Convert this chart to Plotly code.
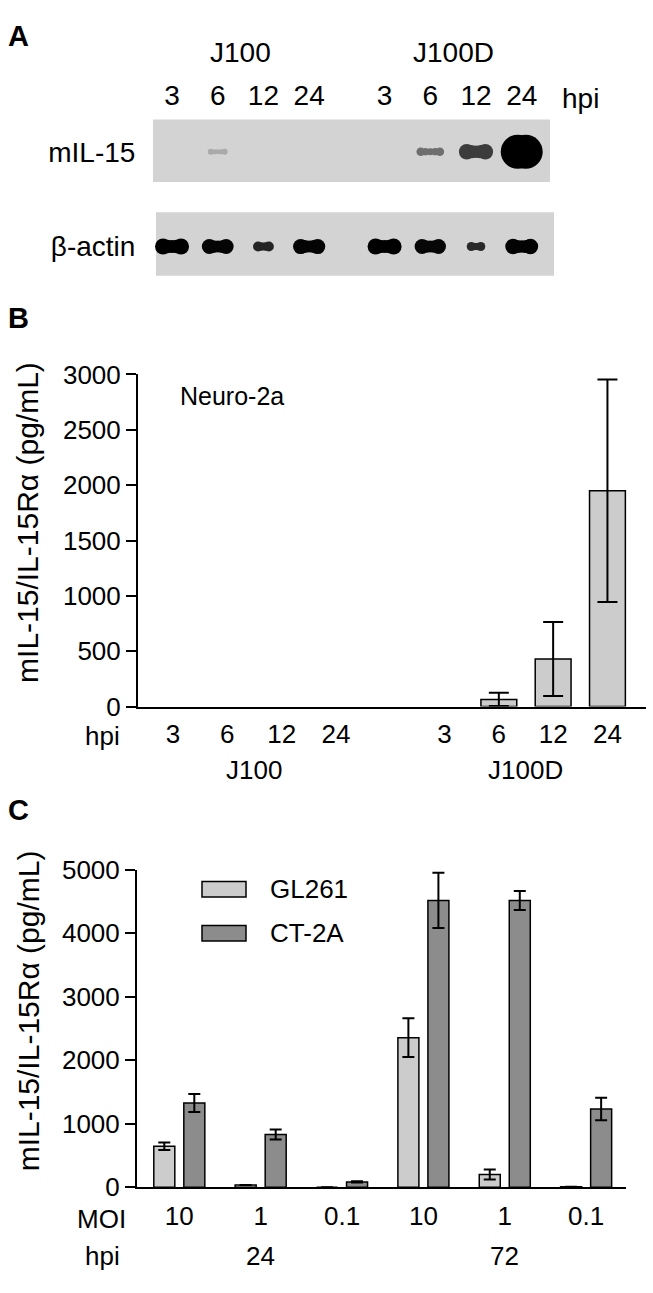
import plotly.graph_objects as go

W, H = 653, 1293
FONT = "Liberation Sans, Arial, sans-serif"

# ---- panel A: western blot, relative band signal per lane (0 = none, 1 = saturated)
lane_hpi = ["3", "6", "12", "24", "3", "6", "12", "24"]
viruses = ["J100", "J100D"]
il15_signal = [0.0, 0.15, 0.0, 0.0, 0.0, 0.45, 0.7, 1.0]
actin_signal = [1.0, 0.9, 0.4, 0.92, 1.0, 0.88, 0.3, 0.95]

# ---- panel B: Neuro-2a ELISA
b_hpi = ["3", "6", "12", "24", "3", "6", "12", "24"]
b_mean = [0, 0, 0, 0, 0, 65, 430, 1950]
b_err = [0, 0, 0, 0, 0, 60, 335, 1005]

# ---- panel C: GL261 / CT-2A ELISA
c_moi = ["10", "1", "0.1", "10", "1", "0.1"]
c_hpi = ["24", "72"]
gl261 = [645, 35, 0, 2355, 200, 8]
gl261_err = [58, 0, 0, 306, 78, 0]
ct2a = [1325, 830, 82, 4515, 4515, 1230]
ct2a_err = [142, 80, 10, 435, 150, 178]

LIGHT = "#cccccc"
DARK = "#8c8c8c"


def px(x):
    return min(max(x / W, 0), 1)


def py(y):
    return min(max(1 - y / H, 0), 1)


fig = go.Figure()

# blot lanes: two groups of four, a gap between the groups
lane_x = [i + (0.65 if i >= 4 else 0) for i in range(len(lane_hpi))]
X_UNIT, Y_UNIT = 45.7, 97.0  # px per axis unit in the blot subplot

mx, my, ms, mc = [], [], [], []
for row, sig in ((1, il15_signal), (0, actin_signal)):
    for x, s in zip(lane_x, sig):
        if s <= 0:
            continue
        if row == 1:
            w_px, h_px, g = 16 + 26 * s, 6 + 28 * s ** 3, 200 * (1 - s)
        else:
            w_px, h_px, g = 12 + 22 * s, 6 + 10 * s, 60 * (1 - s)
        g = int(g)
        half = max(w_px - h_px, 0) / 2 / X_UNIT
        for k, f in enumerate((1.0, 0.85, 0.8, 0.85, 1.0)):
            mx.append(x - half + k * half / 2)
            my.append(row)
            ms.append(h_px * f)
            mc.append(f"rgb({g},{g},{g})")

fig.add_trace(go.Scatter(
    x=mx, y=my, mode="markers",
    marker=dict(size=ms, color=mc, line=dict(width=0), opacity=1),
    xaxis="x3", yaxis="y3", hoverinfo="skip"
))

# panel B
b_x = [0, 1, 2, 3, 5, 6, 7, 8]
fig.add_trace(go.Bar(
    x=b_x, y=b_mean, width=0.66,
    marker=dict(color=LIGHT, line=dict(color="black",
                                       width=[1.5 if v > 0 else 0 for v in b_mean])),
    xaxis="x", yaxis="y", name="Neuro-2a"
))
# error bars only where there is a spread (no caps on the empty lanes)
keep = [i for i, e in enumerate(b_err) if e > 0]
fig.add_trace(go.Scatter(
    x=[b_x[i] for i in keep], y=[b_mean[i] for i in keep], mode="markers",
    marker=dict(size=1, color="rgba(0,0,0,0)"),
    error_y=dict(type="data", array=[b_err[i] for i in keep], color="black",
                 thickness=2, width=10),
    xaxis="x", yaxis="y", hoverinfo="skip"
))

# panel C
groups = list(range(len(c_moi)))
fig.add_trace(go.Bar(
    x=groups, y=gl261, name="GL261",
    marker=dict(color=LIGHT, line=dict(color="black", width=1.5)),
    error_y=dict(type="data", array=gl261_err, color="black", thickness=2, width=6),
    xaxis="x2", yaxis="y2"
))
fig.add_trace(go.Bar(
    x=groups, y=ct2a, name="CT-2A",
    marker=dict(color=DARK, line=dict(color="black", width=1.5)),
    error_y=dict(type="data", array=ct2a_err, color="black", thickness=2, width=6),
    xaxis="x2", yaxis="y2"
))

axis_common = dict(showgrid=False, zeroline=False, color="black",
                   tickfont=dict(size=26, family=FONT, color="black"))
blot_axis = dict(showgrid=False, zeroline=False, showline=False,
                 tickfont=dict(size=28, family=FONT, color="black"))

fig.update_layout(
    width=W, height=H,
    margin=dict(l=0, r=0, t=0, b=0),
    paper_bgcolor="white", plot_bgcolor="white",
    showlegend=False,
    barmode="group", bargap=0.262, bargroupgap=0.3,
    font=dict(family=FONT, size=25, color="black"),
    # panel B
    xaxis=dict(domain=[px(138), px(646)], range=[-0.645, 8.71], anchor="y",
               tickvals=b_x, ticktext=b_hpi, ticks="",
               showline=True, linecolor="black", linewidth=2, ticklabelstandoff=3,
               **axis_common),
    yaxis=dict(domain=[py(708), py(368)], range=[0, 3000], anchor="x",
               tickvals=list(range(0, 3001, 500)), ticks="outside", ticklen=10,
               tickwidth=2, showline=True, linecolor="black", linewidth=2,
               **axis_common),
    # panel C
    xaxis2=dict(domain=[px(137), px(626)], range=[-0.52, 5.49], anchor="y2",
                tickvals=groups, ticktext=c_moi, ticks="",
                showline=True, linecolor="black", linewidth=2, ticklabelstandoff=5,
                **axis_common),
    yaxis2=dict(domain=[py(1200), py(875)], range=[0, 5000], anchor="x2",
                tickvals=list(range(0, 5001, 1000)), ticks="outside", ticklen=10,
                tickwidth=2, showline=True, linecolor="black", linewidth=2,
                **axis_common),
    # panel A blot
    xaxis3=dict(domain=[px(152), px(556)], range=[-0.438, 8.40], anchor="y3",
                side="top", tickvals=lane_x, ticktext=lane_hpi, ticks="outside",
                ticklen=2, tickcolor="rgba(0,0,0,0)", **blot_axis),
    yaxis3=dict(domain=[py(267), py(107)], range=[-0.309, 1.34], anchor="x3",
                tickvals=[1, 0], ticktext=["mIL-15", "β-actin"], ticks="outside",
                ticklen=10, tickcolor="rgba(0,0,0,0)", **blot_axis),
)

# blot membranes
for x0, y0, x1, y1 in ((153, 107, 550, 171), (156, 202, 554, 267)):
    fig.add_shape(type="rect", xref="paper", yref="paper", layer="below",
                  x0=px(x0), x1=px(x1), y0=py(y1), y1=py(y0),
                  fillcolor="#d3d3d3", line=dict(width=0))

# legend for panel C
for (y0, y1), col, label in (((887, 903), LIGHT, "GL261"), ((932, 948), DARK, "CT-2A")):
    fig.add_shape(type="rect", xref="paper", yref="paper",
                  x0=px(202), x1=px(246), y0=py(y1), y1=py(y0),
                  fillcolor=col, line=dict(color="black", width=1.5))
    fig.add_annotation(x=px(268), y=py((y0 + y1) / 2), xref="paper", yref="paper",
                       text=label, showarrow=False, xanchor="left", yanchor="middle",
                       font=dict(size=26))

ann = []
# panel letters
for letter, y in (("A", 22), ("B", 310), ("C", 814)):
    ann.append(dict(x=px(6), y=py(y), text=f"<b>{letter}</b>", xanchor="left",
                    yanchor="middle", font=dict(size=29)))
# panel A group labels
for i, name in enumerate(viruses):
    ann.append(dict(x=lane_x[i * 4] + 1.5, xref="x3", y=py(38), text=name,
                    xanchor="center", yanchor="middle", font=dict(size=28)))
ann.append(dict(x=px(580), y=py(85), text="hpi", xanchor="center", yanchor="middle",
                font=dict(size=28)))
# panel B
ann.append(dict(x=px(178), y=py(390), text="Neuro-2a", xanchor="left",
                yanchor="middle", font=dict(size=25)))
ann.append(dict(x=px(122), y=py(738), text="hpi", xanchor="right", yanchor="middle",
                font=dict(size=26)))
for xc, name in ((1.5, viruses[0]), (6.5, viruses[1])):
    ann.append(dict(x=xc, xref="x", y=py(773), text=name, xanchor="center",
                    yanchor="middle", font=dict(size=26)))
# panel C
ann.append(dict(x=px(128), y=py(1233), text="MOI", xanchor="right", yanchor="middle",
                font=dict(size=26)))
ann.append(dict(x=px(122), y=py(1270), text="hpi", xanchor="right", yanchor="middle",
                font=dict(size=26)))
for xc, name in ((1, c_hpi[0]), (4, c_hpi[1])):
    ann.append(dict(x=xc, xref="x2", y=py(1270), text=name, xanchor="center",
                    yanchor="middle", font=dict(size=26)))
# y titles
for yc in (520, 1020):
    ann.append(dict(x=px(28), y=py(yc), text="mIL-15/IL-15Rα (pg/mL)", textangle=-90,
                    xanchor="center", yanchor="middle", font=dict(size=30)))

for a in ann:
    a.setdefault("xref", "paper")
    a.setdefault("yref", "paper")
    a["showarrow"] = False
    fig.add_annotation(**a)

# the page keeps no margin around the figure
fig.write_html("out.html", config={"displayModeBar": False},
               post_script="document.body.style.margin = '0';")
